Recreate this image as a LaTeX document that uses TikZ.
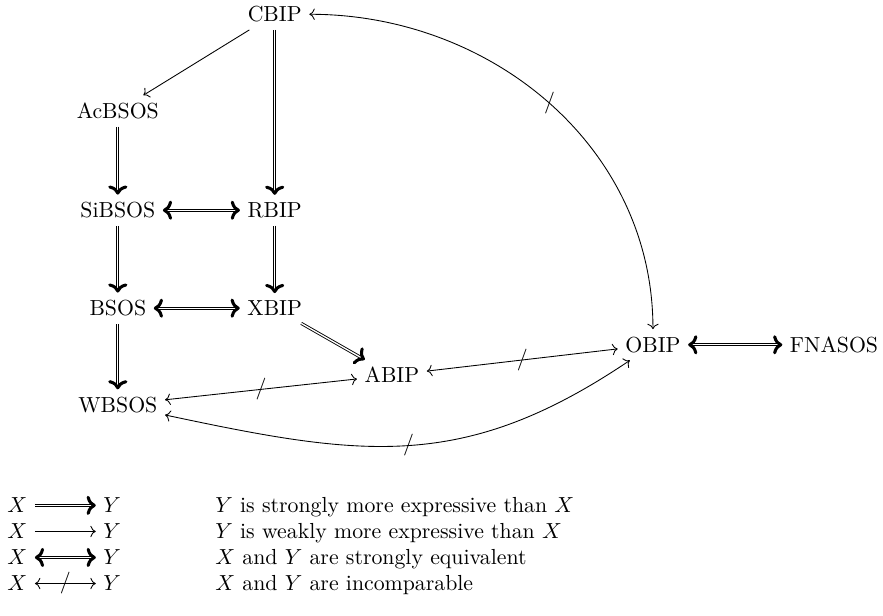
\documentclass[tikz,border=0pt]{standalone}
\usepackage{amsmath,amssymb}
\usepackage{tikz}
\usetikzlibrary{arrows.meta,positioning}

\begin{document}
\begin{tikzpicture}[
    bighead/.tip={Computer Modern Rightarrow[length=4.2pt, width=8.8pt, line width=1.4pt]},
    strong/.style={double, double distance=0.6pt, line width=0.4pt, -{bighead}},
    equiv/.style={double, double distance=0.6pt, line width=0.4pt, {bighead}-{bighead}},
    weak/.style={line width=0.4pt, -{To}},
    incomp/.style={line width=0.4pt, {To}-{To}},
    slash/.style={inner sep=0pt},
    lbl/.style={anchor=base west}
]
\useasboundingbox (0,0) rectangle (14.24,-9.92);

\node (CBIP) at (4.43,-0.23) {CBIP};
\node (AcBSOS) at (1.90,-1.79) {AcBSOS};
\node (SiBSOS) at (1.90,-3.39) {SiBSOS};
\node (RBIP) at (4.43,-3.39) {RBIP};
\node (BSOS) at (1.90,-4.97) {BSOS};
\node (XBIP) at (4.43,-4.97) {XBIP};
\node (ABIP) at (6.32,-6.05) {ABIP};
\node (WBSOS) at (1.90,-6.53) {WBSOS};
\node (OBIP) at (10.53,-5.56) {OBIP};
\node (FNASOS) at (13.45,-5.56) {FNASOS};

\draw[weak] (CBIP) -- (AcBSOS);
\draw[strong] (CBIP) -- (RBIP);
\draw[strong] (AcBSOS) -- (SiBSOS);
\draw[equiv] (SiBSOS) -- (RBIP);
\draw[strong] (SiBSOS) -- (BSOS);
\draw[strong] (RBIP) -- (XBIP);
\draw[equiv] (BSOS) -- (XBIP);
\draw[strong] (BSOS) -- (WBSOS);
\draw[strong] (XBIP) -- (ABIP);
\draw[equiv] (OBIP) -- (FNASOS);
\draw[incomp] (ABIP) -- node[slash] {$/$} (WBSOS);
\draw[incomp] (ABIP) -- node[slash] {$/$} (OBIP);
\draw[incomp] (CBIP) to[out=0, in=90] node[slash] {$/$} (OBIP);
\draw[incomp] (WBSOS) to[out=-12, in=-146, looseness=1.1] node[slash] {$/$} (OBIP);

\node[anchor=base] (x1) at (0.28,-8.27) {$X$};
\node[anchor=base] (y1) at (1.81,-8.27) {$Y$};
\node[anchor=base] (x2) at (0.28,-8.69) {$X$};
\node[anchor=base] (y2) at (1.81,-8.69) {$Y$};
\node[anchor=base] (x3) at (0.28,-9.11) {$X$};
\node[anchor=base] (y3) at (1.81,-9.11) {$Y$};
\node[anchor=base] (x4) at (0.28,-9.53) {$X$};
\node[anchor=base] (y4) at (1.81,-9.53) {$Y$};

\draw[strong] (x1) -- (y1);
\draw[weak] (x2) -- (y2);
\draw[equiv] (x3) -- (y3);
\draw[incomp] (x4) -- node[slash] {$/$} (y4);

\node[lbl] (t1) at (3.35,-8.27) {$Y$ is strongly more expressive than $X$};
\node[lbl] (t2) at (3.35,-8.69) {$Y$ is weakly more expressive than $X$};
\node[lbl] (t3) at (3.35,-9.11) {$X$ and $Y$ are strongly equivalent};
\node[lbl] (t4) at (3.35,-9.53) {$X$ and $Y$ are incomparable};
\end{tikzpicture}
\end{document}
